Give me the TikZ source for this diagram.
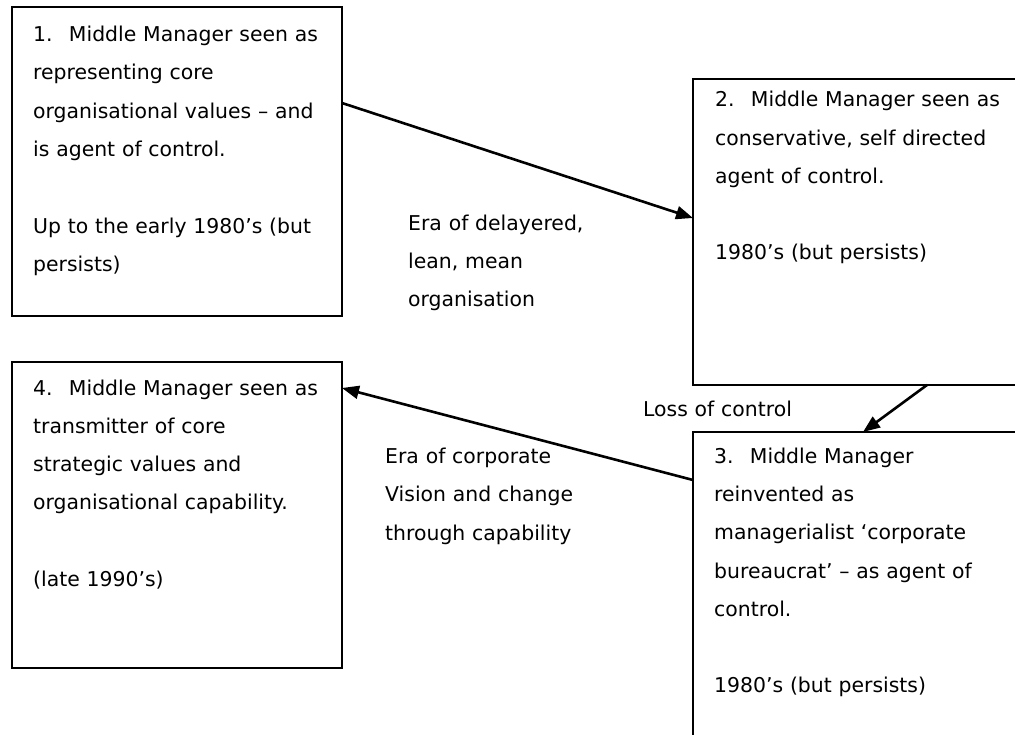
\documentclass[tikz,border=0pt]{standalone}
\usepackage{fontspec}
\setmainfont{DejaVu Sans}
\usetikzlibrary{arrows.meta,calc}
\begin{document}
\begin{tikzpicture}[x=1pt,y=-1pt,
  frame/.style={draw, line width=2.2pt, anchor=north west, inner sep=0pt, outer sep=0pt},
  words/.style={anchor=north west, inner sep=0pt, align=left, text width=330pt,
    font=\fontsize{20.4}{38.3}\selectfont},
  link/.style={line width=2.6pt, -{Triangle[length=17pt,width=13pt]}}]
\useasboundingbox (0,0) rectangle (1015,735);
\clip (0,0) rectangle (1015,735);

% stage boxes (2 and 3 run off the right/bottom edge)
\node[frame, minimum width=330pt, minimum height=309pt] (b1) at (12,7) {};
\node[frame, minimum width=400pt, minimum height=306pt] (b2) at (693,79) {};
\node[frame, minimum width=400pt, minimum height=400pt] (b3) at (693,432) {};
\node[frame, minimum width=330pt, minimum height=306pt] (b4) at (12,362) {};

% box contents
\node[words] (t1) at ($(b1.north west)+(21,18.9)$)
  {1.\hspace{0.8em}Middle Manager seen as\\
   representing core\\
   organisational values – and\\
   is agent of control.\\[38.3pt]
   Up to the early 1980’s (but\\
   persists)};
\node[words] (t2) at ($(b2.north west)+(22,12.1)$)
  {2.\hspace{0.8em}Middle Manager seen as\\
   conservative, self directed\\
   agent of control.\\[38.3pt]
   1980’s (but persists)};
\node[words] (t3) at ($(b3.north west)+(21,15.4)$)
  {3.\hspace{0.8em}Middle Manager\\
   reinvented as\\
   managerialist ‘corporate\\
   bureaucrat’ – as agent of\\
   control.\\[38.3pt]
   1980’s (but persists)};
\node[words] (t4) at ($(b4.north west)+(21,17.4)$)
  {4.\hspace{0.8em}Middle Manager seen as\\
   transmitter of core\\
   strategic values and\\
   organisational capability.\\[38.3pt]
   (late 1990’s)};

% era labels
\node[words] (e1) at (408,214.4) {Era of delayered,\\ lean, mean\\ organisation};
\node[words] (e2) at (643,401.1) {Loss of control};
\node[words] (e3) at (385,447.7) {Era of corporate\\ Vision and change\\ through capability};

% transitions
\draw[link] ($(b1.north east)+(0,96)$) -- ($(b2.north west)+(0,139)$);
\draw[link] ($(b2.south west)+(234,0)$) -- ($(b3.north west)+(170,0)$);
\draw[link] ($(b3.north west)+(0,48)$) -- ($(b4.north east)+(0,26)$);
\end{tikzpicture}
\end{document}
